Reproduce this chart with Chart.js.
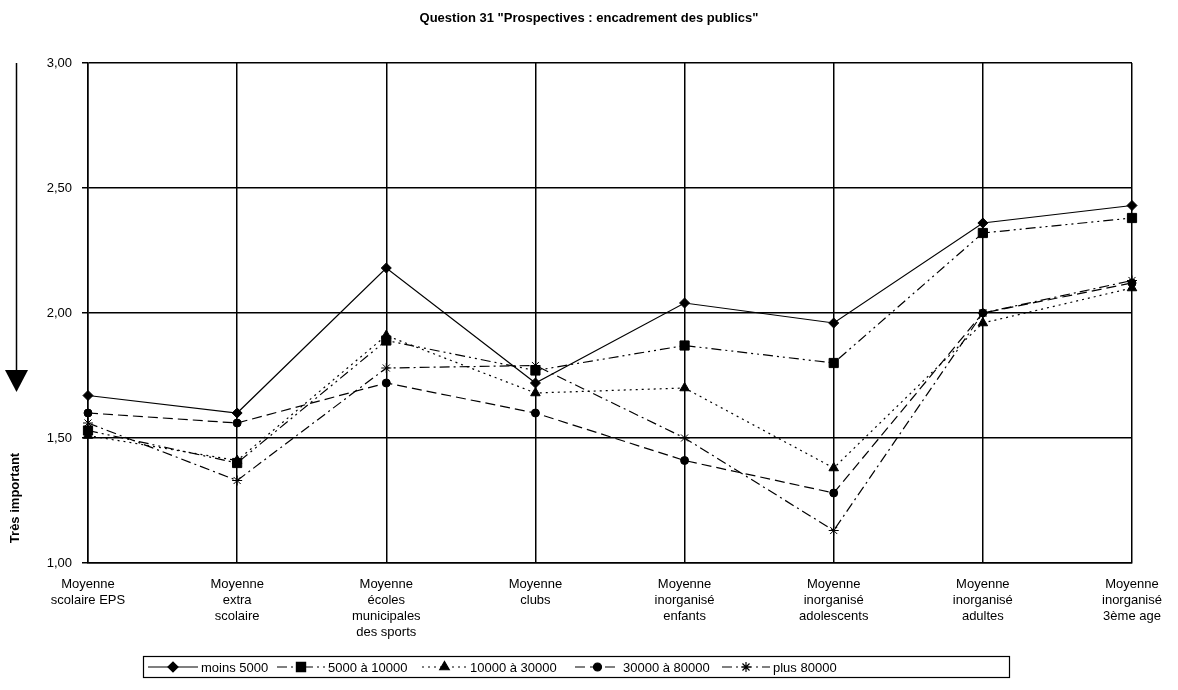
<!DOCTYPE html>
<html>
<head>
<meta charset="utf-8">
<script src="https://cdn.jsdelivr.net/npm/chart.js@4"></script>
<style>
  html, body { margin: 0; padding: 0; background: #fff; }
  #wrap { width: 1178px; height: 690px; position: relative; }
</style>
</head>
<body>
<div id="wrap"><canvas id="chart" width="1178" height="690"></canvas></div>
<script>
// Data
const categories = [
    ['Moyenne', 'scolaire EPS'],
    ['Moyenne', 'extra', 'scolaire'],
    ['Moyenne', 'écoles', 'municipales', 'des sports'],
    ['Moyenne', 'clubs'],
    ['Moyenne', 'inorganisé', 'enfants'],
    ['Moyenne', 'inorganisé', 'adolescents'],
    ['Moyenne', 'inorganisé', 'adultes'],
    ['Moyenne', 'inorganisé', '3ème age']
];
const seriesNames = ['moins 5000', '5000 à 10000', '10000 à 30000', '30000 à 80000', 'plus 80000'];
const moins5000 = [1.67, 1.60, 2.18, 1.72, 2.04, 1.96, 2.36, 2.43];
const de5000a10000 = [1.53, 1.40, 1.89, 1.77, 1.87, 1.80, 2.32, 2.38];
const de10000a30000 = [1.51, 1.41, 1.91, 1.68, 1.70, 1.38, 1.96, 2.10];
const de30000a80000 = [1.60, 1.56, 1.72, 1.60, 1.41, 1.28, 2.00, 2.12];
const plus80000 = [1.56, 1.33, 1.78, 1.79, 1.50, 1.13, 2.00, 2.13];
const yTicks = [1, 1.5, 2, 2.5, 3];

const FONT = '"Liberation Sans", Arial, sans-serif';

// line style + marker for each series
const styles = [
    { dash: [], point: 'rectRot', radius: 5 },
    { dash: [10, 4, 2, 4, 2, 4], point: 'rect', radius: 6.5 },
    { dash: [2, 4], point: 'triangle', radius: 5.5 },
    { dash: [10, 5], point: 'circle', radius: 4 },
    { dash: [10, 4, 2, 4], point: 'star', radius: 5 }
];
const values = [moins5000, de5000a10000, de10000a30000, de30000a80000, plus80000];

const datasets = seriesNames.map((name, i) => ({
    label: name,
    data: values[i],
    borderColor: '#000',
    backgroundColor: '#000',
    borderWidth: 1.2,
    borderDash: styles[i].dash,
    pointStyle: styles[i].point,
    pointRadius: styles[i].radius,
    pointBorderWidth: 1,
    pointBorderColor: '#000',
    pointBackgroundColor: '#000',
    tension: 0,
    fill: false
}));

// title, y axis caption with arrow, and the boxed legend
const decorations = {
    id: 'decorations',
    afterDraw(chart) {
        const ctx = chart.ctx;
        ctx.save();
        ctx.fillStyle = '#000';
        ctx.strokeStyle = '#000';

        ctx.font = 'bold 13px ' + FONT;
        ctx.textAlign = 'center';
        ctx.textBaseline = 'middle';
        ctx.fillText('Question 31 "Prospectives : encadrement des publics"', 589, 18);

        // y caption
        ctx.save();
        ctx.translate(15, 498);
        ctx.rotate(-Math.PI / 2);
        ctx.fillText('Très important', 0, 0);
        ctx.restore();

        // arrow
        ctx.lineWidth = 1.5;
        ctx.beginPath();
        ctx.moveTo(16.5, 63);
        ctx.lineTo(16.5, 372);
        ctx.stroke();
        ctx.beginPath();
        ctx.moveTo(5, 370);
        ctx.lineTo(28, 370);
        ctx.lineTo(16.5, 392);
        ctx.closePath();
        ctx.fill();

        // legend
        ctx.lineWidth = 1.2;
        ctx.strokeRect(143.5, 656.5, 866, 21);
        const samples = [[148, 198], [277, 325], [422, 467], [575, 620], [722, 770]];
        ctx.font = '13px ' + FONT;
        ctx.textAlign = 'left';
        const ly = 667;
        chart.data.datasets.forEach((ds, i) => {
            const [x0, x1] = samples[i];
            ctx.save();
            ctx.lineWidth = 1.2;
            ctx.setLineDash(styles[i].dash);
            ctx.beginPath();
            ctx.moveTo(x0, ly);
            ctx.lineTo(x1, ly);
            ctx.stroke();
            ctx.restore();
            Chart.helpers.drawPoint(ctx, {
                pointStyle: styles[i].point,
                radius: styles[i].radius,
                borderWidth: 1,
                rotation: 0
            }, (x0 + x1) / 2, ly);
            ctx.fillStyle = '#000';
            ctx.fillText(ds.label, x1 + 3, ly + 1);
        });
        ctx.restore();
    }
};

new Chart(document.getElementById('chart'), {
    type: 'line',
    data: { labels: categories, datasets: datasets },
    plugins: [decorations],
    options: {
        responsive: false,
        animation: false,
        layout: { padding: { left: 0, right: 46, top: 63, bottom: 0 } },
        plugins: {
            legend: { display: false },
            title: { display: false },
            tooltip: { enabled: false }
        },
        scales: {
            x: {
                offset: false,
                afterFit(scale) { scale.height = 127; },
                grid: { color: '#000', lineWidth: 1.5, drawTicks: false },
                border: { color: '#000', width: 1.5 },
                ticks: {
                    color: '#000',
                    font: { family: FONT, size: 13, lineHeight: 1.23 },
                    padding: 13,
                    maxRotation: 0,
                    autoSkip: false
                }
            },
            y: {
                min: 1,
                max: 3,
                afterFit(scale) { scale.width = 88; },
                afterBuildTicks(scale) { scale.ticks = yTicks.map(v => ({ value: v })); },
                grid: { color: '#000', lineWidth: 1.5, tickLength: 6 },
                border: { color: '#000', width: 1.5 },
                ticks: {
                    color: '#000',
                    font: { family: FONT, size: 13 },
                    padding: 10,
                    callback: v => v.toFixed(2).replace('.', ',')
                }
            }
        }
    }
});
</script>
</body>
</html>
